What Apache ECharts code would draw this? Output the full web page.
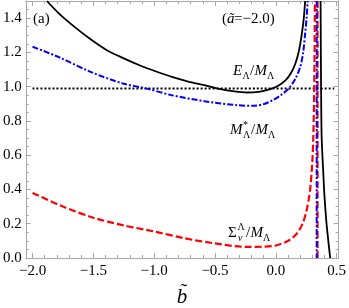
<!DOCTYPE html>
<html><head><meta charset="utf-8">
<script src="https://cdn.jsdelivr.net/npm/echarts@6/dist/echarts.min.js"></script>
<style>html,body{margin:0;padding:0;background:#fff}#c{width:349px;height:308px}</style>
</head><body><div id="c"></div>
<script>
// ---- data ----
const xTickValues = [-2.0, -1.5, -1.0, -0.5, 0.0, 0.5];
const yTickValues = [0.0, 0.2, 0.4, 0.6, 0.8, 1.0, 1.2, 1.4];
const xMinorTicks = [-2.0,-1.9,-1.8,-1.7,-1.6,-1.5,-1.4,-1.3,-1.2,-1.1,-1.0,-0.9,-0.8,-0.7,-0.6,-0.5,-0.4,-0.3,-0.2,-0.1,0.0,0.1,0.2,0.3,0.4,0.5];
const yMinorTicks = [0,0.05,0.1,0.15,0.2,0.25,0.3,0.35,0.4,0.45,0.5,0.55,0.6,0.65,0.7,0.75,0.8,0.85,0.9,0.95,1.0,1.05,1.1,1.15,1.2,1.25,1.3,1.35,1.4,1.45,1.5];

// E_Λ/M_Λ (black solid), two branches
const eB1 = [-1.882,-1.78,-1.655,-1.52,-1.389,-1.25,-1.121,-0.99,-0.854,-0.72,-0.587,-0.453,-0.34,-0.24,-0.14,-0.053,0.02,0.081,0.125,0.161,0.19,0.214,0.23,0.241];
const eV1 = [1.5,1.425,1.349,1.275,1.213,1.165,1.125,1.09,1.057,1.03,1.009,0.985,0.972,0.966,0.97,0.984,1.005,1.038,1.08,1.135,1.21,1.31,1.40,1.5];
const eB2 = [0.368,0.372,0.377,0.39,0.40,0.417,0.43,0.447];
const eV2 = [1.5,1.0,0.7,0.5,0.36,0.2,0.11,0.0];

// M*_Λ/M_Λ (blue dash-dot), branch + pole line
const mB1 = [-2.0,-1.789,-1.522,-1.255,-1.068,-0.854,-0.587,-0.32,-0.186,-0.1,-0.026,0.04,0.107,0.16,0.201,0.225,0.241,0.253,0.262];
const mV1 = [1.233,1.174,1.086,1.018,0.99,0.95,0.915,0.892,0.888,0.898,0.921,0.95,0.99,1.045,1.116,1.2,1.31,1.4,1.5];
const mPoleB = [0.336,0.336];
const mPoleV = [1.5,0.0];

// Σ^Λ_v/M_Λ (red dashed), branch + pole line
const sB1 = [-2.0,-1.75,-1.5,-1.25,-1.0,-0.75,-0.5,-0.25,-0.1,0.0,0.1,0.17,0.22,0.25,0.27,0.285,0.3,0.308,0.314,0.318,0.321];
const sV1 = [0.38,0.30,0.235,0.19,0.155,0.115,0.085,0.065,0.066,0.073,0.1,0.14,0.2,0.27,0.34,0.42,0.56,0.7,0.9,1.15,1.5];
const sPoleB = [0.343,0.343];
const sPoleV = [1.5,0.0];

// black dotted reference line
const hB = [-2.0, 0.48];
const hV = [0.99, 0.99];

// ---- build ----
const zip = (a, b) => a.map((x, i) => [x, b[i]]);
const join = (...parts) => { const out = []; parts.forEach((p, i) => { if (i) out.push([null, null]); out.push(...p); }); return out; };

const X0 = -2.056, X1 = 0.516, Y0 = 0, Y1 = 1.5;
const GRAY = '#a8a8a8';
const FONT = 'Liberation Serif';

function xAx(pos, ticks, len, showLine, labels) {
  return {
    type: 'value', position: pos, min: X0, max: X1,
    axisLine: { show: showLine, onZero: false, lineStyle: { color: GRAY, width: 1 } },
    axisTick: { show: true, inside: true, length: len, customValues: ticks, lineStyle: { color: GRAY } },
    axisLabel: labels ? { show: true, customValues: xTickValues, margin: 6, color: '#000', fontFamily: FONT, fontSize: 15,
      formatter: v => v.toFixed(1).replace('-', '\u2212') } : { show: false },
    splitLine: { show: false }
  };
}
function yAx(pos, ticks, len, showLine, labels) {
  return {
    type: 'value', position: pos, min: Y0, max: Y1,
    axisLine: { show: showLine, onZero: false, lineStyle: { color: GRAY, width: 1 } },
    axisTick: { show: true, inside: true, length: len, customValues: ticks, lineStyle: { color: GRAY } },
    axisLabel: labels ? { show: true, customValues: yTickValues, margin: 4, color: '#000', fontFamily: FONT, fontSize: 15,
      formatter: v => v.toFixed(1) } : { show: false },
    splitLine: { show: false }
  };
}

const chart = echarts.init(document.getElementById('c'), null, { renderer: 'canvas' });
const line = (data, color, width, type, z) => ({
  type: 'line', xAxisIndex: 0, yAxisIndex: 0, data, showSymbol: false, symbol: 'none',
  smooth: 0.3, connectNulls: false, animation: false, z: z || 2,
  lineStyle: { color, width, type, cap: 'butt' }
});

const it = { fontFamily: FONT, fontStyle: 'italic', fontSize: 15, fill: '#000' };
const rm = { fontFamily: FONT, fontSize: 15, fill: '#000' };
const sm = { fontFamily: FONT, fontSize: 10, fill: '#000' };
function T(x, y, text, st) { return { type: 'text', x, y, silent: true, style: Object.assign({ text, verticalAlign: 'middle', align: 'left' }, st) }; }

chart.setOption({
  animation: false,
  grid: { left: 23, right: 5, top: 1, bottom: 50, containLabel: false },
  xAxis: [
    xAx('bottom', xTickValues, 5, true, true),
    xAx('bottom', xMinorTicks, 3, false, false),
    xAx('top', xTickValues, 5, true, false),
    xAx('top', xMinorTicks, 3, false, false)
  ],
  yAxis: [
    yAx('left', yTickValues, 5, true, true),
    yAx('left', yMinorTicks, 3, false, false),
    yAx('right', yTickValues, 5, true, false),
    yAx('right', yMinorTicks, 3, false, false)
  ],
  series: [
    line(zip(hB, hV), '#000', 2, [2, 2], 1),
    line(join(zip(sB1, sV1), zip(sPoleB, sPoleV)), '#ff0000', 2.2, [7, 3], 2),
    line(join(zip(mB1, mV1), zip(mPoleB, mPoleV)), '#0000ff', 2, [6, 2, 2, 2], 3),
    line(join(zip(eB1, eV1), zip(eB2, eV2)), '#000', 1.8, 'solid', 4)
  ],
  graphic: [
    T(33, 19, '(a)', rm),
    T(222, 19, '(', rm), T(227, 19, '\u00e3', it), T(234, 19, '=\u22122.0)', rm),
    // E_Λ / M_Λ
    T(233, 71, 'E', it), T(242.5, 76, '\u039b', sm), T(250, 71, '/', rm), T(254.5, 71, 'M', it), T(267, 76, '\u039b', sm),
    // M*_Λ / M_Λ
    T(230, 130, 'M', it), T(243, 125, '*', sm), T(243, 135, '\u039b', sm), T(251, 130, '/', rm), T(255.5, 130, 'M', it), T(268, 135, '\u039b', sm),
    // Σ^Λ_v / M_Λ
    T(228, 233, '\u03a3', rm), T(237.5, 227, '\u039b', sm), T(238, 238, 'v', Object.assign({}, sm, { fontStyle: 'italic' })),
    T(246, 233, '/', rm), T(250.5, 233, 'M', it), T(263, 238, '\u039b', sm),
    // axis title
    { type: 'text', x: 182, y: 297, silent: true, style: { text: 'b\u0303', fontFamily: FONT, fontStyle: 'italic', fontSize: 21, fill: '#000', align: 'center', verticalAlign: 'middle' } }
  ]
});
</script></body></html>
